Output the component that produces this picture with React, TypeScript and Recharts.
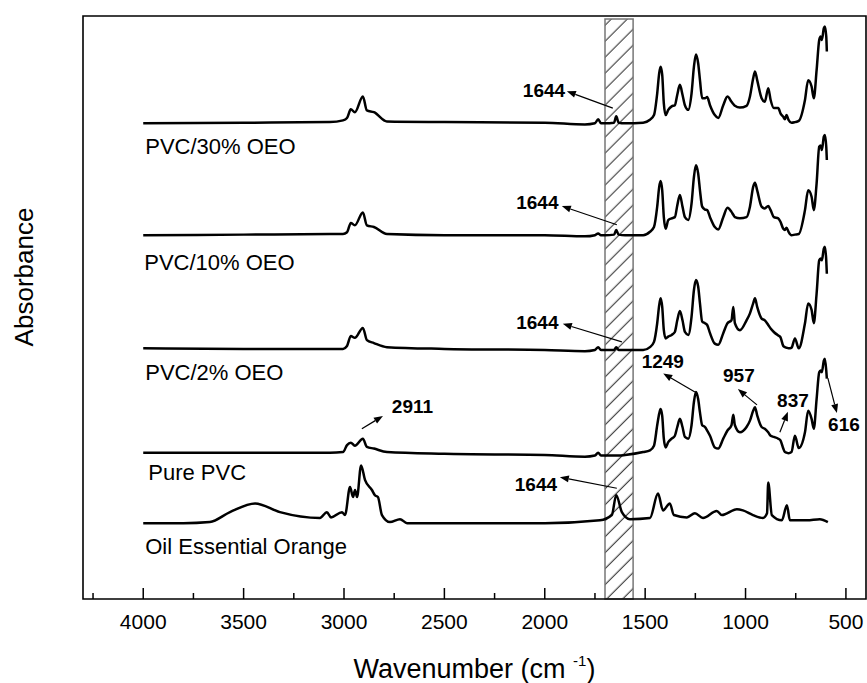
import React from 'react';
import { LineChart, Line, XAxis, YAxis, ReferenceArea, ReferenceDot, ReferenceLine } from 'recharts';

// wavenumber grid shared by the four PVC films (cm-1)
const pvcWavenumbers = [
  4000, 3500, 3070, 3005, 2985, 2966, 2946, 2906, 2886, 2851, 2786, 2500, 2000, 1800, 1750, 1734, 1720, 1700, 1655, 1644, 1632, 1600,
  1510, 1476, 1456, 1440, 1430, 1423, 1415, 1407, 1398, 1385,
  1368, 1352, 1340, 1327, 1314, 1302, 1285, 1269, 1257, 1247,
  1236, 1227, 1216, 1202, 1191, 1177, 1153, 1136, 1111, 1090,
  1070, 1061, 1053, 1028, 995, 978, 962, 953, 942, 920,
  904, 887, 875, 859, 837, 826, 812, 804, 796, 786,
  771, 754, 735, 704, 688, 671, 660, 646, 633, 626,
  620, 610, 605, 598, 595,
];

const pvc30Abs = [
  0, 0.1, 0.2, 0.5, 0.9, 2.4, 1.9, 4.6, 2.2, 1.9, 0.3, 0.2, 0.1, -0.2, 0, 0.7, 0, 0, 0.1, 1.2, 0.1, 0,
  0.1, 0.6, 1.4, 5.1, 8.6, 9.7, 8.3, 3.4, 1.4, 2.3,
  2.9, 3.1, 4.9, 6.6, 4.9, 3.1, 2.3, 5.1, 9.7, 11.8,
  10.3, 7.4, 4.3, 4.3, 4.5, 3.1, 1.4, 0.9, 3.1, 4.6,
  3.7, 3.3, 3.0, 2.7, 3.0, 4.6, 7.7, 8.9, 7.4, 4.3,
  3.7, 6.0, 4.0, 2.6, 2.6, 1.7, 1.1, 0.7, 1.4, 0.6,
  0.1, 0.2, 0.4, 4.0, 7.4, 6.3, 4.3, 9.1, 14.3, 14.9,
  14.3, 16.3, 16.6, 14.9, 12.3,
];
const pvc10Abs = [
  0, 0.1, 0.2, 0.2, 0.5, 2.1, 1.7, 3.9, 1.7, 1.4, 0.2, 0, 0, -0.2, 0, 0.3, 0, 0, 0.1, 0.9, 0.1, 0,
  0, 0.6, 1.4, 4.9, 8.3, 9.3, 7.7, 3.1, 1.1, 2.6,
  2.9, 3.1, 5.1, 6.9, 4.9, 3.1, 2.6, 5.4, 10.0, 12.0,
  10.6, 7.7, 4.9, 4.4, 4.3, 3.1, 1.4, 1.0, 3.1, 4.7,
  4.0, 3.5, 3.1, 2.9, 3.1, 4.9, 8.3, 9.0, 7.7, 4.9,
  4.6, 5.0, 4.3, 3.1, 2.9, 2.3, 1.1, 0.9, 1.3, 0.6,
  0, 0.1, 0.2, 4.3, 7.7, 6.6, 4.3, 8.9, 15.2, 15.4,
  14.6, 16.9, 17.2, 15.2, 12.9,
];
const pvc2Abs = [
  0.3, 0.2, 0.2, 0.2, 0.7, 2.4, 2.1, 3.8, 1.7, 1.2, 0.5, 0.2, 0, -0.2, 0, 0.5, 0, 0, 0, 0.5, 0, 0,
  0, 0.5, 1.4, 4.6, 7.7, 8.9, 7.4, 3.4, 2.0, 2.3,
  2.6, 3.1, 5.1, 6.7, 5.1, 3.1, 2.6, 5.7, 10.3, 12.0,
  10.9, 8.0, 4.9, 4.6, 4.3, 2.9, 1.1, 0.9, 2.9, 4.6,
  5.1, 7.4, 4.6, 3.4, 5.1, 6.3, 8.0, 8.9, 7.4, 5.4,
  5.1, 4.3, 3.7, 3.1, 2.5, 2.2, 0.7, 0.5, 0.4, 0.3,
  0.4, 2.0, 0.3, 4.6, 8.0, 6.9, 4.6, 9.7, 15.4, 15.7,
  15.4, 17.4, 17.7, 15.4, 13.1,
];
const purePvcAbs = [
  0.2, 0.2, 0.2, 0.3, 1.5, 1.9, 1.4, 2.6, 1.2, 0.9, 0.3, 0, -0.2, -0.5, -0.3, 0.2, -0.3, -0.3, -0.3, -0.3, -0.3, -0.2,
  0.3, 0.6, 1.4, 4.9, 6.9, 7.7, 6.5, 2.6, 1.1, 2.0,
  2.6, 3.1, 4.6, 6.0, 4.6, 2.9, 2.6, 4.9, 8.9, 10.6,
  9.4, 7.1, 4.9, 4.6, 4.0, 3.1, 1.1, 0.9, 2.6, 4.0,
  4.9, 6.7, 4.9, 3.7, 4.6, 5.7, 7.4, 8.0, 6.6, 4.6,
  4.3, 3.7, 3.1, 2.9, 2.6, 2.3, 0.9, 0.3, 0.2, 0.1,
  0.3, 3.1, 1.0, 3.7, 7.4, 6.0, 4.3, 9.4, 14.0, 14.3,
  14.0, 16.0, 16.3, 14.3, 12.9,
];

// orange essential oil has its own bands
const oilWavenumbers = [4000, 3800, 3668, 3568, 3443, 3319, 3120, 3085, 3065, 3010, 2995, 2970, 2955, 2945, 2935, 2915, 2895, 2861, 2846, 2831, 2811, 2771, 2721, 2686, 2000, 1725, 1666, 1644, 1616, 1576, 1476, 1436, 1411, 1377, 1357, 1292, 1252, 1212, 1143, 1118, 1043, 1013, 963, 913, 893, 887, 869, 819, 794, 779, 694, 630, 590];
const oilAbs = [0, 0, 0.2, 1.9, 3.4, 1.9, 0.9, 1.9, 1.0, 1.9, 1.4, 6.2, 4.5, 5.7, 4.5, 9.9, 7.4, 5.7, 4.8, 4.5, 1.4, 0.2, 0.7, 0, 0, 0.5, 1.4, 4.8, 1.9, 0.7, 0.9, 5.1, 2.2, 3.4, 1.4, 1.0, 1.7, 0.9, 2.1, 1.4, 2.4, 2.2, 1.4, 0.9, 1.7, 7.0, 1.4, 0.5, 3.1, 0.5, 0.5, 0.7, 0.2];

// vertical stacking offsets of each trace
const spectrumNames = ['PVC/30% OEO', 'PVC/10% OEO', 'PVC/2% OEO', 'Pure PVC', 'Oil Essential Orange'];
const spectrumOffsets = [81.6, 62.4, 42.7, 24.9, 13.0];

const xTicks = [4250, 4000, 3750, 3500, 3250, 3000, 2750, 2500, 2250, 2000, 1750, 1500, 1250, 1000, 750, 500];

// shaded C=C band
const bandFrom = 1700;
const bandTo = 1560;

// series name positions: [wavenumber, absorbance]
const namePos = [[3990, 76.3], [3995, 56.5], [3990, 37.6], [3975, 20.4], [3990, 7.7]];

// peak annotations: text, text pos, arrow tail, arrow head
const peakNotes = [
  { text: '1644', at: [2004, 86.1], from: [1661, 84.2], to: [1890, 87.1] },
  { text: '1644', at: [2037, 66.9], from: [1641, 64.2], to: [1915, 67.4] },
  { text: '1644', at: [2037, 46.3], from: [1616, 44.1], to: [1910, 47.2] },
  { text: '1644', at: [2044, 18.5], from: [1641, 19.0], to: [1925, 20.9] },
  { text: '2911', at: [2659, 31.9], from: [2911, 29.2], to: [2806, 31.4] },
  { text: '1249', at: [1412, 39.6], from: [1252, 35.5], to: [1410, 38.7] },
  { text: '957', at: [1033, 37.2], from: [943, 33.3], to: [1038, 36.0] },
  { text: '837', at: [764, 32.9], from: [829, 28.6], to: [789, 32.1] },
  { text: '616', at: [510, 28.8], from: [590, 37.9], to: [545, 31.9] },
];

const FONT = '"Liberation Sans", Arial, sans-serif';

const toSeries = (wn: number[], abs: number[], offset: number) =>
  wn.map((w, i) => ({ wn: w, abs: +(abs[i] + offset).toFixed(2) }));

const series = [
  toSeries(pvcWavenumbers, pvc30Abs, spectrumOffsets[0]),
  toSeries(pvcWavenumbers, pvc10Abs, spectrumOffsets[1]),
  toSeries(pvcWavenumbers, pvc2Abs, spectrumOffsets[2]),
  toSeries(pvcWavenumbers, purePvcAbs, spectrumOffsets[3]),
  toSeries(oilWavenumbers, oilAbs, spectrumOffsets[4]),
];

const AxisTick = (props: any) => {
  const { x, y, payload } = props;
  const major = payload.value % 500 === 0;
  return (
    <g>
      <line x1={x} x2={x} y1={y} y2={y - (major ? 11 : 6)} stroke="#000" strokeWidth={1.5} />
      {major && (
        <text x={x} y={y + 30} textAnchor="middle" fontSize={21} fontFamily={FONT} fill="#000">
          {payload.value}
        </text>
      )}
    </g>
  );
};

const XTitle = (props: any) => {
  const { x, y, width } = props.viewBox;
  return (
    <text x={x + width / 2} y={y + 79} textAnchor="middle" fontSize={27} fontFamily={FONT} fill="#000">
      Wavenumber (cm{' '}
      <tspan fontSize={15} dy={-12}>-1</tspan>
      <tspan dy={12}>)</tspan>
    </text>
  );
};

const YTitle = (props: any) => {
  const { y } = props.viewBox;
  const cx = 33;
  const cy = y + 261;
  return (
    <text x={cx} y={cy} textAnchor="middle" fontSize={26} fontFamily={FONT} fill="#000" transform={`rotate(-90, ${cx}, ${cy})`}>
      Absorbance
    </text>
  );
};

const arrowShape = (props: any) => {
  const { x1, y1, x2, y2 } = props;
  const dx = x2 - x1;
  const dy = y2 - y1;
  const len = Math.hypot(dx, dy) || 1;
  const ux = dx / len;
  const uy = dy / len;
  const bx = x2 - ux * 9;
  const by = y2 - uy * 9;
  const pts = `${x2},${y2} ${bx - uy * 3.5},${by + ux * 3.5} ${bx + uy * 3.5},${by - ux * 3.5}`;
  return (
    <g>
      <line x1={x1} y1={y1} x2={bx} y2={by} stroke="#000" strokeWidth={1.2} />
      <polygon points={pts} fill="#000" />
    </g>
  );
};

const FtirChart: React.FC = () => {
  return (
    <div style={{ width: 867, height: 683, position: 'relative' }}>
      <style>{'body { margin: 0; }'}</style>
      <svg width={0} height={0} style={{ position: 'absolute' }}>
        <defs>
          <pattern id="hatch" patternUnits="userSpaceOnUse" width={11.3} height={11.3} patternTransform="rotate(45)">
            <line x1={5} y1={0} x2={5} y2={11.3} stroke="#222" strokeWidth={1} />
          </pattern>
        </defs>
      </svg>
      <LineChart width={867} height={683} margin={{ top: 16, right: 1, bottom: 0, left: 0 }}>
        <XAxis
          dataKey="wn"
          type="number"
          domain={[400, 4300]}
          reversed
          allowDataOverflow
          ticks={xTicks}
          interval={0}
          tick={<AxisTick />}
          tickSize={0}
          tickMargin={0}
          tickLine={false}
          axisLine={false}
          height={84}
          label={{ content: XTitle }}
        />
        <YAxis
          type="number"
          domain={[0, 100]}
          allowDataOverflow
          width={83}
          tick={false}
          tickLine={false}
          axisLine={false}
          label={{ content: YTitle }}
        />
        <ReferenceArea
          x1={bandFrom}
          x2={bandTo}
          y1={0}
          y2={99.5}
          fill="url(#hatch)"
          fillOpacity={1}
          stroke="#777"
          strokeWidth={1.5}
        />
        <ReferenceArea x1={4300} x2={400} y1={0} y2={100} fill="none" stroke="#000" strokeWidth={1.6} />
        {series.map((data, i) => (
          <Line
            key={spectrumNames[i]}
            data={data}
            dataKey="abs"
            type="monotone"
            stroke="#000"
            strokeWidth={2.5}
            dot={false}
            isAnimationActive={false}
          />
        ))}
        {spectrumNames.map((name, i) => (
          <ReferenceDot
            key={'n' + i}
            x={namePos[i][0]}
            y={namePos[i][1]}
            r={0}
            shape={(p: any) => (
              <text x={p.cx} y={p.cy} fontSize={22} fontFamily={FONT} fill="#000">
                {name}
              </text>
            )}
          />
        ))}
        {peakNotes.map((n, i) => (
          <ReferenceLine
            key={'a' + i}
            segment={[
              { x: n.from[0], y: n.from[1] },
              { x: n.to[0], y: n.to[1] },
            ]}
            shape={arrowShape}
          />
        ))}
        {peakNotes.map((n, i) => (
          <ReferenceDot
            key={'t' + i}
            x={n.at[0]}
            y={n.at[1]}
            r={0}
            shape={(p: any) => (
              <text x={p.cx} y={p.cy} textAnchor="middle" fontSize={19} fontWeight="bold" fontFamily={FONT} fill="#000">
                {n.text}
              </text>
            )}
          />
        ))}
      </LineChart>
    </div>
  );
};

export default FtirChart;
